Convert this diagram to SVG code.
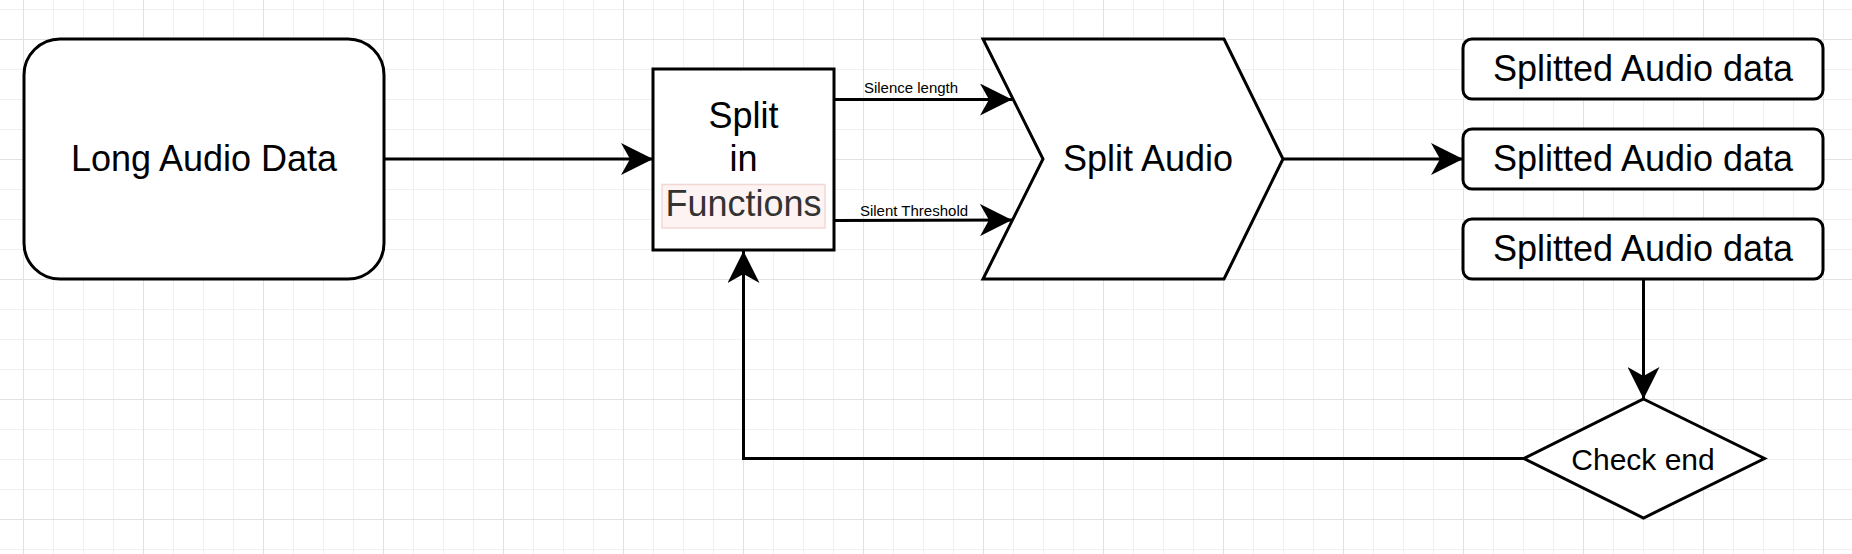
<svg xmlns="http://www.w3.org/2000/svg" width="1852" height="554" viewBox="0 0 1852 554">
  <defs>
    <pattern id="grid" patternUnits="userSpaceOnUse" x="23" y="39" width="120" height="120">
      <path d="M30.5 0V120M60.5 0V120M90.5 0V120M0 30.5H120M0 60.5H120M0 90.5H120" stroke="#f0f0f0" stroke-width="1" fill="none"/>
      <path d="M0.5 0V120M0 0.5H120" stroke="#e2e2e2" stroke-width="1" fill="none"/>
    </pattern>
    <marker id="arr" markerUnits="userSpaceOnUse" viewBox="0 0 32 32" refX="32" refY="16" markerWidth="32" markerHeight="32" orient="auto">
      <path d="M32 16L0 0L9 16L0 32Z" fill="#000"/>
    </marker>
    <style>
      .shape { fill: #fff; stroke: #000; stroke-width: 3; }
      .edge { fill: none; stroke: #000; stroke-width: 3; marker-end: url(#arr); }
      .t { font-family: "Liberation Sans", Arial, sans-serif; fill: #000; text-anchor: middle; }
      .big { font-size: 36px; }
      .mid { font-size: 30px; }
      .small { font-size: 15px; }
    </style>
  </defs>
  <rect width="1852" height="554" fill="#fff"/>
  <rect width="1852" height="554" fill="url(#grid)"/>

  <g id="connectors">
    <path class="edge" d="M384 159H653"/>
    <path class="edge" d="M834 99.5H1012"/>
    <path class="edge" d="M834 220.5L1012 220"/>
    <path class="edge" d="M1283 159H1463"/>
    <path class="edge" d="M1643.5 279V399"/>
    <path class="edge" d="M1524 458.5H743.5V251"/>
    <text class="t small" x="911" y="93">Silence length</text>
    <text class="t small" x="914" y="216">Silent Threshold</text>
  </g>

  <g id="long-audio">
    <rect class="shape" x="24" y="39" width="360" height="240" rx="36" ry="36"/>
    <text class="t big" x="204" y="171">Long Audio Data</text>
  </g>

  <g id="split-functions">
    <rect class="shape" x="653" y="69" width="181" height="181"/>
    <text class="t big" x="743.5" y="128">Split</text>
    <text class="t big" x="743.5" y="171">in</text>
    <rect x="662" y="184.5" width="163" height="43.5" fill="#fdf3f2" stroke="#f2d8d5" stroke-width="1.5"/>
    <text class="t big" x="743.5" y="216" style="fill:#333">Functions</text>
  </g>

  <g id="split-audio">
    <polygon class="shape" points="983,39 1224,39 1283,159 1224,279 983,279 1043,159"/>
    <text class="t big" x="1148" y="171">Split Audio</text>
  </g>

  <g id="splitted-1">
    <rect class="shape" x="1463" y="39" width="360" height="60" rx="9" ry="9"/>
    <text class="t big" x="1643" y="80.5">Splitted Audio data</text>
  </g>

  <g id="splitted-2">
    <rect class="shape" x="1463" y="129" width="360" height="60" rx="9" ry="9"/>
    <text class="t big" x="1643" y="170.5">Splitted Audio data</text>
  </g>

  <g id="splitted-3">
    <rect class="shape" x="1463" y="219" width="360" height="60" rx="9" ry="9"/>
    <text class="t big" x="1643" y="260.5">Splitted Audio data</text>
  </g>

  <g id="check-end">
    <polygon class="shape" points="1643.5,399 1764.5,458.5 1643.5,518 1524,458.5"/>
    <text class="t mid" x="1643" y="470">Check end</text>
  </g>
</svg>
